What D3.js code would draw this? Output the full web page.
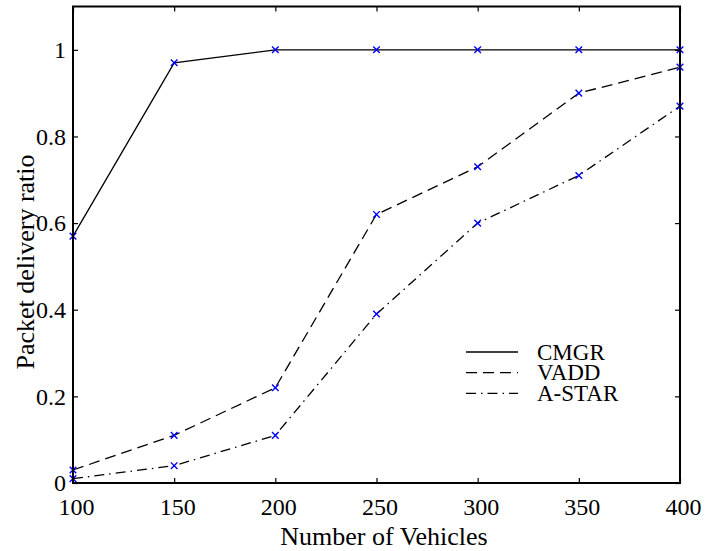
<!DOCTYPE html>
<html><head><meta charset="utf-8">
<script src="https://cdn.jsdelivr.net/npm/d3@7"></script>
<style>body{margin:0;background:#fff}svg{display:block}text{font-family:"Liberation Serif","Times New Roman",serif;fill:#000}</style>
</head><body><svg id="c" width="705" height="551"></svg>
<script>
const vehicles = [100,150,200,250,300,350,400];
const cmgr  = [0.57,0.97,1.00,1.00,1.00,1.00,1.00];
const vadd  = [0.03,0.11,0.22,0.62,0.73,0.90,0.96];
const astar = [0.01,0.04,0.11,0.39,0.60,0.71,0.87];
const seriesNames = ["CMGR","VADD","A-STAR"];
const xTicks = [100,150,200,250,300,350,400];
const yTicks = [0,0.2,0.4,0.6,0.8,1];

const svg = d3.select("#c");
const L=73,R=680,T=6.5,B=483;
const x = d3.scaleLinear().domain([100,400]).range([L,R]);
const y = d3.scaleLinear().domain([0,1.1]).range([B,T]);
const FONT = '"Liberation Serif","Times New Roman",serif';

const dashes = [null,"11,6","10,5,1.5,5"];
const data = [cmgr,vadd,astar];
const line = d3.line().x((d,i)=>x(vehicles[i])).y(d=>y(d));

data.forEach((s,k)=>{
  svg.append("path").attr("d",line(s)).attr("fill","none").attr("stroke","#000")
    .attr("stroke-width",1.3).attr("stroke-dasharray",dashes[k]);
});
data.forEach(s=>{
  s.forEach((v,i)=>{
    const cx=x(vehicles[i]), cy=y(v), r=3.3;
    svg.append("path").attr("d",`M${cx-r},${cy-r}L${cx+r},${cy+r}M${cx-r},${cy+r}L${cx+r},${cy-r}`)
      .attr("stroke","#0000ff").attr("stroke-width",1.4).attr("fill","none");
  });
});

// axes with inward ticks
const tl=5;
const axB = svg.append("g").attr("transform",`translate(0,${B})`).call(d3.axisBottom(x).tickValues(xTicks).tickSizeInner(-tl).tickSizeOuter(0).tickPadding(15));
const axT = svg.append("g").attr("transform",`translate(0,${T})`).call(d3.axisTop(x).tickValues(xTicks).tickSizeInner(-tl).tickSizeOuter(0).tickFormat(""));
const axL = svg.append("g").attr("transform",`translate(${L},0)`).call(d3.axisLeft(y).tickValues(yTicks).tickSizeInner(-tl).tickSizeOuter(0).tickPadding(7).tickFormat(d=>d3.format("")(d)));
const axR = svg.append("g").attr("transform",`translate(${R},0)`).call(d3.axisRight(y).tickValues(yTicks).tickSizeInner(-tl).tickSizeOuter(0).tickFormat(""));
[axB,axT,axL,axR].forEach(a=>{
  a.attr("font-family",FONT);
  a.select(".domain").remove();
  a.selectAll(".tick line").attr("stroke","#000").attr("stroke-width",1.2);
  a.selectAll("text").attr("font-size",24).style("font-family",FONT).attr("fill","#000");
});
axB.selectAll("text").attr("dx",3);
svg.append("rect").attr("x",L).attr("y",T).attr("width",R-L).attr("height",B-T)
  .attr("fill","none").attr("stroke","#000").attr("stroke-width",2);

svg.append("text").attr("x",384).attr("y",545).attr("text-anchor","middle").attr("font-size",26).text("Number of Vehicles");
svg.append("text").attr("transform",`translate(34,262) rotate(-90)`).attr("text-anchor","middle").attr("font-size",26).text("Packet delivery ratio");

// legend
const lg = svg.append("g");
seriesNames.forEach((n,k)=>{
  const yy = 352 + k*20.7;
  lg.append("line").attr("x1",466).attr("x2",518).attr("y1",yy).attr("y2",yy)
    .attr("stroke","#000").attr("stroke-width",1.3).attr("stroke-dasharray",dashes[k]);
  lg.append("text").attr("x",537).attr("y",yy+7.5).attr("font-size",23).text(n);
});
</script></body></html>
